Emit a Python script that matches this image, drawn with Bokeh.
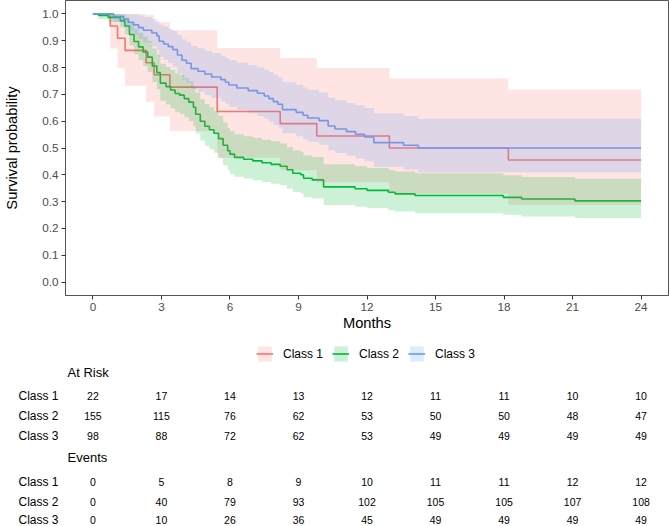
from bokeh.plotting import figure
from bokeh.models import Range1d, FixedTicker, PrintfTickFormatter, Legend, LegendItem, Label
from bokeh.layouts import column
from bokeh.embed import file_html
from bokeh.resources import INLINE
from bokeh.core.properties import value

FONT = "Liberation Sans"

# ---------------- data ----------------
class_names = ["Class 1", "Class 2", "Class 3"]
colors = ["#F8766D", "#00BA38", "#619CFF"]

# Class 1
c1_time = [0, 0.76, 1.08, 1.41, 2.33, 2.68, 3.37, 5.44, 8.2, 9.8, 12.98, 18.19, 24]
c1_surv = [1.0, 0.955, 0.909, 0.864, 0.818, 0.773, 0.727, 0.636, 0.591, 0.545, 0.500, 0.455, 0.455]
c1_low = [1.0, 0.871, 0.797, 0.732, 0.672, 0.617, 0.563, 0.464, 0.417, 0.372, 0.329, 0.288, 0.288]
c1_up = [1.0, 1.0, 1.0, 1.0, 0.996, 0.969, 0.939, 0.873, 0.836, 0.798, 0.759, 0.718, 0.718]

# Class 2
c2_time = [0, 0.25, 0.67, 1.2, 1.4, 1.6, 1.8, 2.0, 2.2, 2.4, 2.6, 2.8, 2.95, 3.2, 3.4, 3.6, 3.8,
           4.0, 4.2, 4.4, 4.5, 4.7, 4.9, 5.1, 5.3, 5.5, 5.7, 5.9, 6.0, 6.2, 6.6, 7.0, 7.4,
           7.8, 8.2, 8.5, 8.75, 9.1, 9.22, 9.6, 10.1, 11.48, 12.0, 12.94, 13.23, 14.1,
           17.97, 18.77, 21.1, 24]
c2_surv = [1.0, 0.994, 0.987, 0.974, 0.955, 0.923, 0.897, 0.877, 0.858, 0.839, 0.806, 0.781,
           0.742, 0.729, 0.716, 0.703, 0.697, 0.684, 0.671, 0.652, 0.626, 0.600, 0.581, 0.568,
           0.555, 0.535, 0.510, 0.490, 0.477, 0.465, 0.458, 0.452, 0.445, 0.439, 0.432, 0.419,
           0.406, 0.400, 0.387, 0.381, 0.355, 0.348, 0.342, 0.335, 0.329, 0.323, 0.316, 0.310,
           0.303, 0.303]
c2_low = [1.0, 0.981, 0.969, 0.949, 0.923, 0.882, 0.850, 0.827, 0.805, 0.783, 0.746, 0.719,
          0.676, 0.662, 0.648, 0.635, 0.628, 0.615, 0.601, 0.581, 0.554, 0.528, 0.508, 0.495,
          0.482, 0.462, 0.437, 0.417, 0.404, 0.393, 0.386, 0.380, 0.373, 0.367, 0.361, 0.348,
          0.336, 0.330, 0.317, 0.312, 0.287, 0.281, 0.275, 0.268, 0.263, 0.257, 0.251, 0.245,
          0.239, 0.239]
c2_up = [1.0, 1.0, 1.0, 0.999, 0.988, 0.966, 0.946, 0.930, 0.915, 0.899, 0.871, 0.849,
         0.814, 0.802, 0.791, 0.779, 0.773, 0.761, 0.749, 0.731, 0.707, 0.682, 0.664, 0.652,
         0.639, 0.620, 0.595, 0.575, 0.562, 0.551, 0.544, 0.538, 0.531, 0.525, 0.517, 0.504,
         0.491, 0.485, 0.472, 0.466, 0.439, 0.432, 0.425, 0.418, 0.412, 0.406, 0.398, 0.392,
         0.385, 0.385]

# Class 3
c3_time = [0, 0.9, 1.34, 1.55, 1.78, 2.0, 2.21, 2.58, 2.8, 2.9, 3.1, 3.3, 3.5, 3.7, 3.9, 4.1,
           4.3, 4.6, 4.9, 5.2, 5.6, 5.8, 5.95, 6.3, 6.8, 7.2, 7.5, 7.7, 7.9, 8.1, 8.3, 8.9,
           9.2, 9.4, 9.9, 10.3, 10.6, 11.1, 11.5, 11.9, 12.3, 13.6, 14.25, 24]
c3_surv = [1.0, 0.990, 0.980, 0.969, 0.959, 0.949, 0.939, 0.929, 0.918, 0.898, 0.888, 0.878,
           0.867, 0.847, 0.827, 0.816, 0.796, 0.786, 0.776, 0.765, 0.755, 0.745, 0.735, 0.724,
           0.714, 0.704, 0.694, 0.684, 0.673, 0.663, 0.643, 0.633, 0.622, 0.612, 0.602, 0.582,
           0.571, 0.561, 0.551, 0.541, 0.520, 0.510, 0.500, 0.500]
c3_low = [1.0, 0.970, 0.953, 0.935, 0.921, 0.906, 0.893, 0.879, 0.865, 0.840, 0.828, 0.816,
          0.802, 0.779, 0.755, 0.743, 0.720, 0.709, 0.698, 0.686, 0.674, 0.664, 0.653, 0.641,
          0.630, 0.619, 0.609, 0.598, 0.586, 0.576, 0.555, 0.544, 0.533, 0.523, 0.512, 0.492,
          0.481, 0.471, 0.461, 0.451, 0.430, 0.420, 0.410, 0.410]
c3_up = [1.0, 1.0, 1.0, 1.0, 0.999, 0.994, 0.988, 0.981, 0.974, 0.960, 0.953, 0.945, 0.937,
         0.921, 0.905, 0.896, 0.880, 0.872, 0.863, 0.854, 0.845, 0.836, 0.828, 0.818, 0.809,
         0.800, 0.792, 0.783, 0.773, 0.764, 0.745, 0.736, 0.726, 0.717, 0.707, 0.688, 0.678,
         0.668, 0.659, 0.649, 0.629, 0.619, 0.609, 0.609]

# Risk table
table_times = [0, 3, 6, 9, 12, 15, 18, 21, 24]
at_risk_c1 = [22, 17, 14, 13, 12, 11, 11, 10, 10]
at_risk_c2 = [155, 115, 76, 62, 53, 50, 50, 48, 47]
at_risk_c3 = [98, 88, 72, 62, 53, 49, 49, 49, 49]
events_c1 = [0, 5, 8, 9, 10, 11, 11, 12, 12]
events_c2 = [0, 40, 79, 93, 102, 105, 105, 107, 108]
events_c3 = [0, 10, 26, 36, 45, 49, 49, 49, 49]

y_ticks = [0.0, 0.1, 0.2, 0.3, 0.4, 0.5, 0.6, 0.7, 0.8, 0.9, 1.0]
x_ticks = [0, 3, 6, 9, 12, 15, 18, 21, 24]

series = [
    (c1_time, c1_surv, c1_low, c1_up),
    (c2_time, c2_surv, c2_low, c2_up),
    (c3_time, c3_surv, c3_low, c3_up),
]

# ---------------- main KM plot ----------------
MAIN_H = 335
LEFT = 65
XR = (-1.2, 25.2)
p = figure(width=669, height=MAIN_H, x_range=Range1d(*XR), y_range=Range1d(-0.05, 1.05),
           output_backend="svg", toolbar_location=None,
           min_border_left=LEFT, min_border_right=1, min_border_top=0, min_border_bottom=40)
p.xgrid.visible = False
p.ygrid.visible = False
p.background_fill_color = "white"
p.border_fill_color = "white"
p.outline_line_color = "#555555"
p.outline_line_width = 1

for (t, s, lo, up), col in zip(series, colors):
    p.step(x=t, y=s, mode="after", line_color=col, line_width=1.6)
for (t, s, lo, up), col in zip(series, colors):
    p.varea_step(x=t, y1=lo, y2=up, step_mode="after", fill_color=col, fill_alpha=0.2)

p.xaxis.ticker = FixedTicker(ticks=x_ticks)
p.yaxis.ticker = FixedTicker(ticks=y_ticks)
p.yaxis.formatter = PrintfTickFormatter(format="%.1f")
p.xaxis.axis_label = "Months"
p.yaxis.axis_label = "Survival probability"
for ax in (p.xaxis[0], p.yaxis[0]):
    ax.axis_line_color = "#555555"
    ax.major_tick_line_color = "#333333"
    ax.major_tick_out = 4
    ax.major_tick_in = 0
    ax.minor_tick_line_color = None
    ax.major_label_text_font = FONT
    ax.major_label_text_font_size = "11.7px"
    ax.major_label_text_color = "#4D4D4D"
    ax.axis_label_text_font = FONT
    ax.axis_label_text_font_size = "14.7px"
    ax.axis_label_text_font_style = "normal"
    ax.axis_label_text_color = "black"
p.xaxis.major_label_standoff = 3
p.xaxis.axis_label_standoff = 1
p.yaxis.major_label_standoff = 3
p.yaxis.axis_label_standoff = 19

# ---------------- legend + risk table ----------------
# The table figure's frame is aligned with the plot frame by the column layout,
# so it shares the same x range (months) as the survival plot.
TAB_H = 526 - MAIN_H
off = MAIN_H
risk_rows_y = [395 - off, 415 - off, 435 - off]
event_rows_y = [481 - off, 501 - off, 519 - off]

tf = figure(width=669, height=TAB_H, x_range=Range1d(*XR), y_range=Range1d(TAB_H, 0),
            output_backend="svg", toolbar_location=None,
            min_border_left=LEFT, min_border_right=1, min_border_top=0, min_border_bottom=0,
            x_axis_location=None, y_axis_location="left")
tf.xgrid.visible = False
tf.ygrid.visible = False
tf.outline_line_color = None

# row names shown as the table's left axis labels
row_ticks = risk_rows_y + event_rows_y
tax = tf.yaxis[0]
tax.ticker = FixedTicker(ticks=row_ticks)
tax.major_label_overrides = {y: n for y, n in zip(row_ticks, class_names + class_names)}
tax.axis_line_color = None
tax.major_tick_line_color = None
tax.minor_tick_line_color = None
tax.major_tick_out = 0
tax.major_tick_in = 0
tax.major_label_standoff = 7
tax.major_label_text_font = FONT
tax.major_label_text_font_size = "12px"
tax.major_label_text_color = "black"

items = []
for name, col in zip(class_names, colors):
    rb = tf.varea(x=[-90, -80], y1=[0, 0], y2=[1, 1], fill_color=col, fill_alpha=0.2)
    rl = tf.line(x=[-90, -80], y=[0, 0], line_color=col, line_width=1.6)
    items.append(LegendItem(label=name, renderers=[rb, rl]))
legend = Legend(items=items, orientation="horizontal", location=(256 - LEFT, TAB_H - 28),
                padding=0, margin=0, spacing=9, glyph_width=17, glyph_height=19,
                label_standoff=10, label_height=19, label_text_font=FONT,
                label_text_font_size="12px", label_text_color="black",
                border_line_color=None, background_fill_alpha=0)
tf.add_layout(legend)

px_per_month = (669 - LEFT - 1) / (XR[1] - XR[0])
head_x = XR[0] + (67 - LEFT) / px_per_month
blocks = [
    ("At Risk", 372 - off, [at_risk_c1, at_risk_c2, at_risk_c3], risk_rows_y),
    ("Events", 457 - off, [events_c1, events_c2, events_c3], event_rows_y),
]
for title, ty, vals_list, ys in blocks:
    tf.add_layout(Label(x=head_x, y=ty, text=title, text_align="left",
                        text_baseline="middle", text_font=FONT, text_font_size="13px",
                        text_color="black"))
    for vals, ry in zip(vals_list, ys):
        tf.text(x=table_times, y=[ry] * len(table_times), text=[str(v) for v in vals],
                text_align="center", text_baseline="middle", text_font=value(FONT),
                text_font_size="10.5px", text_color="black")

layout = column(p, tf, spacing=0)
open("out.html", "w").write(file_html(layout, INLINE))
